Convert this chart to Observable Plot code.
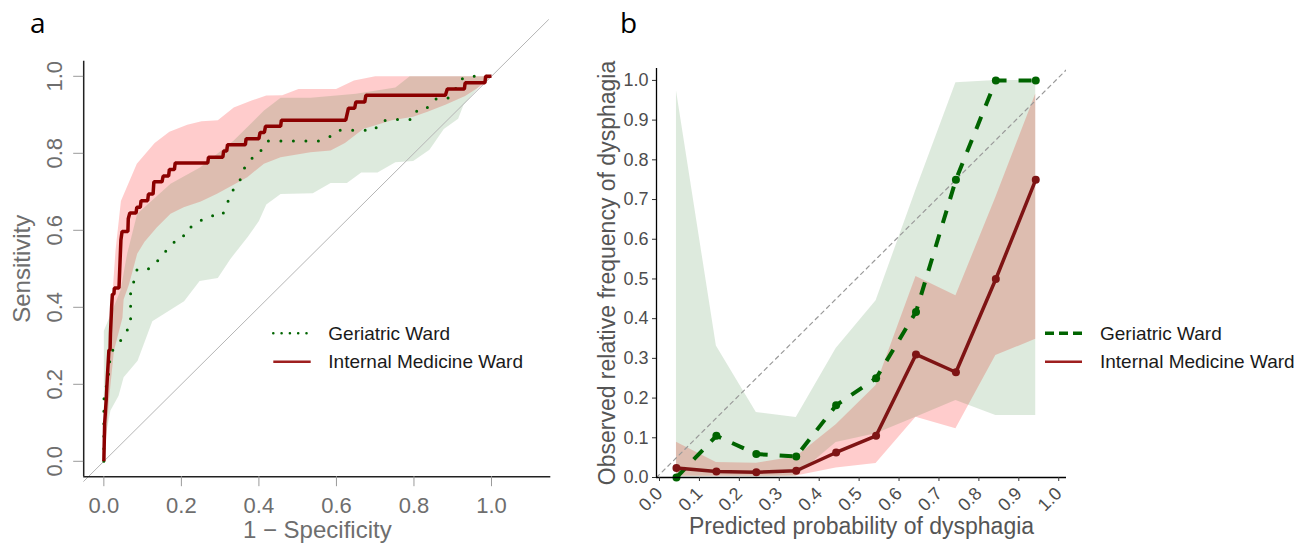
<!DOCTYPE html>
<html><head><meta charset="utf-8">
<script src="https://cdn.jsdelivr.net/npm/d3@7"></script>
<script src="https://cdn.jsdelivr.net/npm/@observablehq/plot@0.6"></script>
<style>
body{margin:0;background:#fff;}
#wrap{position:relative;width:1296px;height:544px;overflow:hidden;font-family:"Liberation Sans",Arial,sans-serif;}
.panel{position:absolute;top:0;}
.tag{position:absolute;font-family:"Open Sans",sans-serif;font-size:28px;color:#000;line-height:normal;}
#legend{position:absolute;left:0;top:0;pointer-events:none;}
</style></head><body>
<div id="wrap">
  <div id="pa" class="panel" style="left:0px"></div>
  <div id="pb" class="panel" style="left:560px"></div>
  <div class="tag" style="left:30px;top:3px">a</div>
  <div class="tag" style="left:620px;top:3px">b</div>
</div>
<script>
// ---------- Panel a : ROC curves ----------
const seriesNames = ["Geriatric Ward", "Internal Medicine Ward"];
const xTitleA = "1 − Specificity";
const yTitleA = "Sensitivity";
const ticksA = [0, 0.2, 0.4, 0.6, 0.8, 1.0];

const imRocFpr = [0,0.002,0.006,0.009,0.013,0.016,0.017,0.02,0.022,0.026,0.027,0.039,0.041,0.044,0.047,0.062,0.063,0.067,0.083,0.085,0.094,0.096,0.113,0.115,0.127,0.129,0.15,0.153,0.167,0.169,0.182,0.184,0.268,0.27,0.307,0.309,0.317,0.319,0.365,0.367,0.4,0.403,0.414,0.417,0.456,0.458,0.624,0.631,0.647,0.65,0.673,0.676,0.881,0.886,0.93,0.932,0.983,0.985,1.0];
const imRocTpr = [0,0.097,0.158,0.218,0.288,0.29,0.331,0.40,0.434,0.434,0.45,0.45,0.5,0.575,0.597,0.597,0.63,0.645,0.645,0.66,0.66,0.677,0.677,0.694,0.694,0.726,0.726,0.741,0.741,0.758,0.758,0.775,0.775,0.79,0.79,0.806,0.806,0.822,0.822,0.838,0.838,0.854,0.854,0.87,0.87,0.886,0.886,0.917,0.917,0.933,0.933,0.951,0.951,0.967,0.967,0.983,0.983,1.0,1.0];

const gerRocFpr = [0,0,0.015,0.015,0.027,0.043,0.054,0.069,0.069,0.08,0.086,0.118,0.14,0.155,0.174,0.189,0.215,0.226,0.249,0.272,0.305,0.317,0.327,0.34,0.354,0.363,0.377,0.389,0.409,0.423,0.553,0.581,0.602,0.699,0.71,0.738,0.8,0.809,0.84,0.858,0.886,0.905,0.914,0.935,1.0];
const gerRocTpr = [0,0.16,0.242,0.274,0.296,0.313,0.334,0.35,0.447,0.473,0.5,0.5,0.522,0.542,0.557,0.582,0.588,0.611,0.625,0.638,0.638,0.665,0.695,0.714,0.735,0.762,0.777,0.8,0.809,0.832,0.832,0.842,0.86,0.86,0.881,0.888,0.888,0.915,0.92,0.942,0.942,0.96,0.987,1.0,1.0];

// confidence band of sensitivity (upper edge left->right, then lower edge right->left)
const imBandFpr = [0,0.007,0.012,0.018,0.024,0.03,0.044,0.085,0.131,0.169,0.215,0.252,0.294,0.335,0.381,0.419,0.46,0.502,0.599,0.645,0.7,1,
  0.974,0.932,0.881,0.835,0.798,0.743,0.669,0.622,0.585,0.533,0.456,0.413,0.37,0.292,0.25,0.206,0.172,0.137,0.105,0.086,0.065,0.051,0.048,0.026,0.013,0.007];
const imBandTpr = [0,0.10,0.19,0.33,0.46,0.547,0.676,0.773,0.827,0.856,0.874,0.883,0.886,0.919,0.937,0.95,0.951,0.967,0.967,0.989,1.0,1.0,
  0.976,0.949,0.926,0.908,0.895,0.886,0.863,0.827,0.807,0.803,0.79,0.773,0.738,0.695,0.675,0.66,0.643,0.608,0.57,0.539,0.46,0.42,0.373,0.287,0.157,0.071];
const gerBandFpr = [0,0,0.043,0.06,0.086,0.172,0.249,0.335,0.413,0.456,0.533,0.65,0.752,0.789,1,
  0.974,0.928,0.914,0.877,0.84,0.798,0.752,0.706,0.664,0.627,0.585,0.539,0.456,0.419,0.4,0.372,0.326,0.294,0.247,0.207,0.125,0.087,0.051,0.038,0.017,0.009];
const gerBandTpr = [0.03,0.339,0.444,0.539,0.643,0.721,0.764,0.833,0.911,0.944,0.944,0.955,0.971,1.0,1.0,
  0.98,0.926,0.89,0.863,0.809,0.78,0.777,0.75,0.75,0.723,0.723,0.696,0.694,0.667,0.624,0.584,0.525,0.476,0.468,0.416,0.364,0.261,0.218,0.17,0.132,0.089];

const diagA = [-0.052, 1.147];
const xDomA = [-0.052, 1.153];
const yDomA = [-0.04, 1.15];
const yAxisTopA = 1.039;

// ---------- Panel b : calibration ----------
const xTitleB = "Predicted probability of dysphagia";
const yTitleB = "Observed relative frequency of dysphagia";
const ticksB = [0,0.1,0.2,0.3,0.4,0.5,0.6,0.7,0.8,0.9,1.0];
const binMid = [0.05,0.15,0.25,0.35,0.45,0.55,0.65,0.75,0.85,0.95];
const gerObs = [0.0,0.105,0.059,0.053,0.182,0.25,0.417,0.75,1.0,1.0];
const gerLo  = [0.0,0.003,0.002,0.003,0.088,0.11,0.152,0.194,0.156,0.156];
const gerHi  = [0.974,0.331,0.164,0.151,0.325,0.445,0.724,0.994,1.0,1.0];
const imObs  = [0.024,0.015,0.013,0.017,0.063,0.105,0.31,0.265,0.5,0.75];
const imLo   = [0.003,0.003,0.003,0.004,0.024,0.035,0.152,0.123,0.307,0.348];
const imHi   = [0.089,0.038,0.036,0.052,0.133,0.232,0.506,0.458,0.705,0.966];
const diagB = [0, 1.03];
const xDomB = [0, 1.027];
const yDomB = [0, 1.03];

// ---------- colours ----------
const gerCol = "#006400";
const imCol = "#8b0000";
const imColB = "#7e1414";

const pts = (xs, ys) => xs.map((x, i) => ({x, y: ys[i]}));

const A = Plot.plot({
  width: 560, height: 544,
  marginLeft: 83.2, marginRight: 9.7, marginTop: 18.05, marginBottom: 67.8,
  x: {domain: xDomA}, y: {domain: yDomA},
  style: {fontFamily: "'Liberation Sans', Arial, sans-serif", background: "transparent", overflow: "visible"},
  marks: [
    Plot.line(pts(imBandFpr, imBandTpr), {x: "x", y: "y", fill: "#ff0000", fillOpacity: 0.2, stroke: "none", curve: "linear-closed"}),
    Plot.line(pts(gerBandFpr, gerBandTpr), {x: "x", y: "y", fill: gerCol, fillOpacity: 0.135, stroke: "none", curve: "linear-closed"}),
    Plot.line(pts(diagA, diagA), {x: "x", y: "y", stroke: "#b5b5b5", strokeWidth: 1}),
    Plot.line(pts(gerRocFpr, gerRocTpr), {x: "x", y: "y", stroke: gerCol, strokeWidth: 3, strokeDasharray: "0,12.5", strokeLinecap: "round"}),
    Plot.line(pts(imRocFpr, imRocTpr), {x: "x", y: "y", stroke: imCol, strokeWidth: 3.5, strokeLinejoin: "miter", strokeLinecap: "butt"}),
    Plot.ruleX([xDomA[0]], {y1: yDomA[0], y2: yAxisTopA, stroke: "#222", strokeWidth: 1.5}),
    Plot.ruleY([yDomA[0]], {x1: xDomA[0], x2: xDomA[1], stroke: "#222", strokeWidth: 1.5}),
    Plot.axisX({ticks: ticksA, tickFormat: d3.format(".1f"), tickSize: 10, tickPadding: 10.7, fontSize: 22, fill: "#6e6e6e", stroke: "#9a9a9a", label: null}),
    Plot.axisY({ticks: ticksA, tickFormat: d3.format(".1f"), tickSize: 10, tickPadding: 12, tickRotate: -90, fontSize: 22, fill: "#6e6e6e", stroke: "#9a9a9a", label: null}),
    Plot.text([xTitleA], {text: d => d, frameAnchor: "bottom", dy: 61.5, lineAnchor: "bottom", fontSize: 24, fill: "#6e6e6e"}),
    Plot.text([yTitleA], {text: d => d, frameAnchor: "left", y: () => 0.5, dx: -70.6, rotate: -90, lineAnchor: "top", textAnchor: "middle", fontSize: 24, fill: "#6e6e6e"})
  ]
});
document.getElementById("pa").appendChild(A);

const bins = binMid.map((m, i) => ({m, gObs: gerObs[i], gLo: gerLo[i], gHi: gerHi[i], iObs: imObs[i], iLo: imLo[i], iHi: imHi[i]}));

const B = Plot.plot({
  width: 736, height: 544,
  marginLeft: 96, marginRight: 230, marginTop: 68, marginBottom: 67,
  x: {domain: xDomB}, y: {domain: yDomB},
  style: {fontFamily: "'Liberation Sans', Arial, sans-serif", background: "transparent", overflow: "visible"},
  marks: [
    Plot.areaY(bins, {x: "m", y1: "iLo", y2: "iHi", fill: "#ff0000", fillOpacity: 0.2}),
    Plot.areaY(bins, {x: "m", y1: "gLo", y2: "gHi", fill: gerCol, fillOpacity: 0.135}),
    Plot.line(pts(diagB, diagB), {x: "x", y: "y", stroke: "#9a9a9a", strokeWidth: 1.2, strokeDasharray: "4,4", clip: true}),
    Plot.line(bins, {x: "m", y: "gObs", stroke: gerCol, strokeWidth: 4, strokeDasharray: "13,12", strokeLinecap: "butt"}),
    Plot.dot(bins, {x: "m", y: "gObs", r: 4, fill: gerCol}),
    Plot.line(bins, {x: "m", y: "iObs", stroke: imColB, strokeWidth: 3.5}),
    Plot.dot(bins, {x: "m", y: "iObs", r: 4, fill: imColB}),
    Plot.ruleX([xDomB[0]], {stroke: "#000", strokeWidth: 1.3}),
    Plot.ruleY([yDomB[0]], {stroke: "#000", strokeWidth: 1.3}),
    Plot.axisX({ticks: ticksB, tickFormat: d3.format(".1f"), tickSize: 4, tickPadding: 9, dx: 3, tickRotate: -45, fontSize: 18, fill: "#4d4d4d", stroke: "#333", label: null}),
    Plot.axisY({ticks: ticksB, tickFormat: d3.format(".1f"), tickSize: 4, tickPadding: 4, fontSize: 18, fill: "#4d4d4d", stroke: "#333", label: null}),
    Plot.text([xTitleB], {text: d => d, frameAnchor: "bottom", dy: 56, lineAnchor: "bottom", fontSize: 23, fill: "#555"}),
    Plot.text([yTitleB], {text: d => d, frameAnchor: "left", dx: -58, rotate: -90, lineAnchor: "top", textAnchor: "middle", fontSize: 23, fill: "#555"})
  ]
});
document.getElementById("pb").appendChild(B);

// ---------- legends ----------
const leg = d3.select("#wrap").append("svg").attr("id", "legend").attr("width", 1296).attr("height", 544);
const legendRows = [333.3, 361.7];
function legend(x0, x1, tx, gerStyle) {
  const g = leg.append("g");
  g.append("line").attr("x1", x0).attr("x2", x1).attr("y1", legendRows[0]).attr("y2", legendRows[0])
    .attr("stroke", gerCol).attr("stroke-width", gerStyle.w).attr("stroke-dasharray", gerStyle.dash)
    .attr("stroke-linecap", gerStyle.cap);
  g.append("line").attr("x1", x0).attr("x2", x1).attr("y1", legendRows[1]).attr("y2", legendRows[1])
    .attr("stroke", "#9e1f1f").attr("stroke-width", 2.5);
  seriesNames.forEach((s, i) => {
    g.append("text").attr("x", tx).attr("y", legendRows[i]).attr("dy", "0.35em")
      .attr("font-family", "'Liberation Sans', Arial, sans-serif").attr("font-size", 19).attr("fill", "#1a1a1a").text(s);
  });
}
legend(273.3, 310.7, 328.3, {w: 2.6, dash: "0,8.3", cap: "round"});
legend(1045, 1082, 1100, {w: 3.5, dash: "9,5", cap: "butt"});
</script>
</body></html>
